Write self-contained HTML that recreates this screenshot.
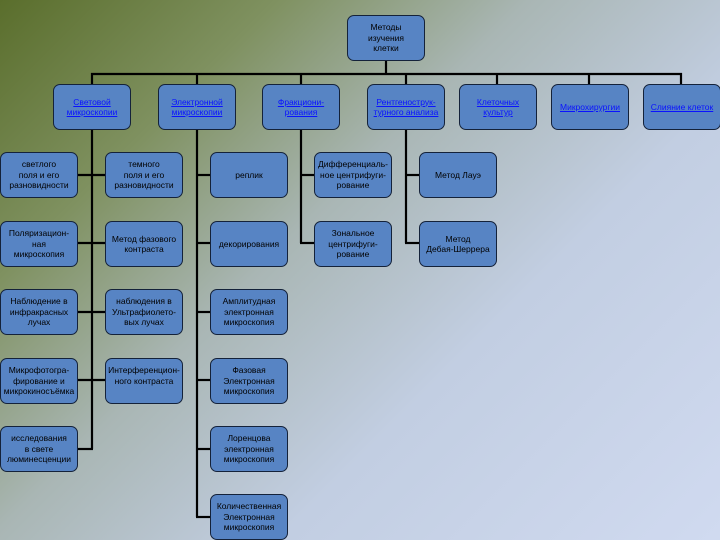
<!DOCTYPE html>
<html><head><meta charset="utf-8"><style>
html,body{margin:0;padding:0}
body{width:720px;height:540px;overflow:hidden;position:relative;
background:linear-gradient(135deg,#5a6e2c 0%,#7f9160 22%,#a9b6b4 42%,#c2cee2 65%,#d0daf0 100%);
font-family:"Liberation Sans","DejaVu Sans",sans-serif;}
.b{position:absolute;width:76px;height:44px;background:#5784c4;border:1px solid #14223a;border-radius:7px;
display:flex;align-items:center;justify-content:center;text-align:center;font-size:8.5px;line-height:10.5px;color:#000;box-sizing:content-box;overflow:hidden}
.l{color:#0a12ff;text-decoration:underline}
svg{position:absolute;left:0;top:0}
</style></head><body>
<svg width="720" height="540">
<g stroke="#000" stroke-width="2.2" fill="none">
<line x1="386" y1="60" x2="386" y2="74"/>
<line x1="91" y1="74" x2="682" y2="74"/>
<line x1="92" y1="73" x2="92" y2="84"/><line x1="197" y1="73" x2="197" y2="84"/>
<line x1="301" y1="73" x2="301" y2="84"/><line x1="406" y1="73" x2="406" y2="84"/>
<line x1="497" y1="73" x2="497" y2="84"/><line x1="589" y1="73" x2="589" y2="84"/>
<line x1="681" y1="73" x2="681" y2="84"/>
<line x1="92" y1="129" x2="92" y2="449"/>
<line x1="78" y1="175" x2="105" y2="175"/><line x1="78" y1="243" x2="105" y2="243"/>
<line x1="78" y1="312" x2="105" y2="312"/><line x1="78" y1="380" x2="105" y2="380"/>
<line x1="78" y1="449" x2="93" y2="449"/>
<line x1="197" y1="129" x2="197" y2="517"/>
<line x1="197" y1="175" x2="210" y2="175"/><line x1="197" y1="243" x2="210" y2="243"/>
<line x1="197" y1="312" x2="210" y2="312"/><line x1="197" y1="380" x2="210" y2="380"/>
<line x1="197" y1="449" x2="210" y2="449"/><line x1="196" y1="517" x2="210" y2="517"/>
<line x1="301" y1="129" x2="301" y2="243"/>
<line x1="301" y1="175" x2="314" y2="175"/><line x1="300" y1="243" x2="314" y2="243"/>
<line x1="406" y1="129" x2="406" y2="243"/>
<line x1="406" y1="175" x2="419" y2="175"/><line x1="405" y1="243" x2="419" y2="243"/>
</g></svg>
<div class="b" style="left:347px;top:15px">Методы<br>изучения<br>клетки</div>
<div class="b" style="left:53px;top:84px"><span class="l">Световой<br>микроскопии</span></div>
<div class="b" style="left:158px;top:84px"><span class="l">Электронной<br>микроскопии</span></div>
<div class="b" style="left:262px;top:84px"><span class="l">Фракциони-<br>рования</span></div>
<div class="b" style="left:367px;top:84px"><span class="l">Рентгенострук-<br>турного анализа</span></div>
<div class="b" style="left:459px;top:84px"><span class="l">Клеточных<br>культур</span></div>
<div class="b" style="left:551px;top:84px"><span class="l">Микрохирургии</span></div>
<div class="b" style="left:643px;top:84px"><span class="l">Слияние клеток</span></div>

<div class="b" style="left:0;top:152px">светлого<br>поля и его<br>разновидности</div>
<div class="b" style="left:0;top:221px">Поляризацион-<br>ная<br>микроскопия</div>
<div class="b" style="left:0;top:289px">Наблюдение в<br>инфракрасных<br>лучах</div>
<div class="b" style="left:0;top:358px">Микрофотогра-<br>фирование и<br>микрокиносъёмка</div>
<div class="b" style="left:0;top:426px">исследования<br>в свете<br>люминесценции</div>

<div class="b" style="left:105px;top:152px">темного<br>поля и его<br>разновидности</div>
<div class="b" style="left:105px;top:221px">Метод фазового<br>контраста</div>
<div class="b" style="left:105px;top:289px">наблюдения в<br>Ультрафиолето-<br>вых лучах</div>
<div class="b" style="left:105px;top:358px;align-items:flex-start"><div style="margin-top:6px">Интерференцион-<br>ного контраста</div></div>

<div class="b" style="left:210px;top:152px">реплик</div>
<div class="b" style="left:210px;top:221px">декорирования</div>
<div class="b" style="left:210px;top:289px">Амплитудная<br>электронная<br>микроскопия</div>
<div class="b" style="left:210px;top:358px">Фазовая<br>Электронная<br>микроскопия</div>
<div class="b" style="left:210px;top:426px">Лоренцова<br>электронная<br>микроскопия</div>
<div class="b" style="left:210px;top:494px">Количественная<br>Электронная<br>микроскопия</div>

<div class="b" style="left:314px;top:152px">Дифференциаль-<br>ное центрифуги-<br>рование</div>
<div class="b" style="left:314px;top:221px">Зональное<br>центрифуги-<br>рование</div>

<div class="b" style="left:419px;top:152px">Метод Лауэ</div>
<div class="b" style="left:419px;top:221px">Метод<br>Дебая-Шеррера</div>
</body></html>
